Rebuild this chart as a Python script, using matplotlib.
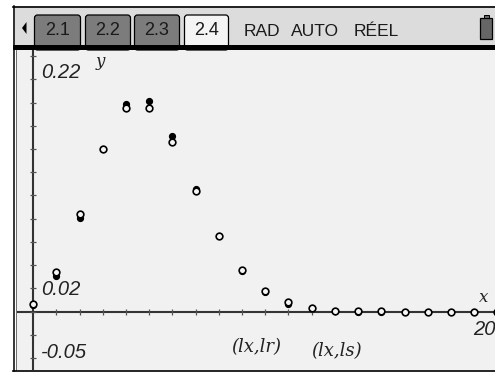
import numpy as np
import matplotlib.pyplot as plt
from matplotlib.patches import Rectangle, FancyBboxPatch, Polygon

# data (TI-Nspire scatter plot)
lx = list(range(21))
lr = [0.006, 0.031, 0.081, 0.140, 0.179, 0.181, 0.151, 0.106, 0.065, 0.035, 0.017,
      0.007, 0.003, 0.001, 0.0, 0.0, 0.0, 0.0, 0.0, 0.0, 0.0]
ls = [0.007, 0.034, 0.084, 0.140, 0.175, 0.175, 0.146, 0.104, 0.065, 0.036, 0.018,
      0.008, 0.003, 0.001, 0.0005, 0.0002, 0.0, 0.0, 0.0, 0.0, 0.0]

tabs = ["2.1", "2.2", "2.3", "2.4"]
mode_words = ["RAD", "AUTO", "RÉEL"]

W, H = 495, 374
fig = plt.figure(figsize=(W / 100, H / 100), dpi=100)
fig.patch.set_facecolor("white")

# plot window, pixel box x 17..495, y 50..370
bg = "#f0f1f0"
ax = fig.add_axes([17 / W, (H - 370) / H, (W - 17) / W, 320 / H])
ax.set_facecolor(bg)
ax.set_xlim(-0.70, 19.9)
ax.set_ylim(-0.0502, 0.2252)
for s in ax.spines.values():
    s.set_visible(False)
ax.set_xticks([])
ax.set_yticks([])

axis_col = "#333333"
ax.axhline(0, color=axis_col, lw=1.5, zorder=1)
ax.axvline(0, color=axis_col, lw=1.5, zorder=1)
xt = np.arange(1, 21)
ax.plot(xt, np.zeros_like(xt), ls="none", marker="|", ms=4, mew=0.9,
        color="#555555", zorder=1)
yt = np.arange(-0.04, 0.23, 0.02)
ax.plot(np.zeros_like(yt), yt, ls="none", marker="_", ms=4, mew=0.9,
        color="#555555", zorder=1)

ax.plot(lx, lr, ls="none", marker="o", ms=4.2, color="black", zorder=3)
ax.plot(lx, ls, ls="none", marker="o", ms=4.8, mfc="#f6f6f6", mec="black",
        mew=1.2, zorder=4)

# chrome overlay in pixel coords
ov = fig.add_axes([0, 0, 1, 1], facecolor="none")
ov.set_xlim(0, W)
ov.set_ylim(H, 0)
ov.axis("off")

ov.add_patch(Rectangle((13, 6), W - 13, 40, fc="#dcdcdc", ec="none"))
ov.plot([13, W], [6.5, 6.5], color="black", lw=1.2)
tab_x = [(33, 82), (84, 132), (133, 181), (183, 230)]
for i, (t, (x0, x1)) in enumerate(zip(tabs, tab_x)):
    active = i == len(tabs) - 1
    ov.add_patch(FancyBboxPatch((x0 + 1.5, 15), x1 - x0 - 3, 35,
                                boxstyle="round,pad=0,rounding_size=3",
                                fc="#f4f4f4" if active else "#7c7c7c",
                                ec="black", lw=0.9))
    ov.text((x0 + x1) / 2, 30.5, t, ha="center", va="center", fontsize=13,
            family="Liberation Sans", color="#1a1a1a")
ov.add_patch(Polygon([[22, 28], [26.5, 22], [26.5, 34]], closed=True,
                     fc="black", ec="none"))
for w, cx in zip(mode_words, [262, 315, 376]):
    ov.text(cx, 31, w, ha="center", va="center", fontsize=12.5,
            family="Liberation Sans", color="#1a1a1a")
# battery
ov.add_patch(Rectangle((480, 17.5), 12, 21, fc="#666666", ec="black", lw=0.9))
ov.add_patch(Rectangle((483.5, 15), 5, 2.5, fc="#666666", ec="black", lw=0.7))

ov.add_patch(Rectangle((13, 45), W - 13, 5, fc="black", ec="none"))
ov.plot([13.8, 13.8], [6, 371], color="black", lw=1.1)
ov.plot([16, 16], [50, 370], color="#555555", lw=0.6)
ov.plot([13, W], [370.5, 370.5], color="black", lw=1.2)

lab = dict(family="Liberation Sans", style="italic", fontsize=14.5,
           color="#222222", va="center")
ov.text(41, 72, "0.22", ha="left", **lab)
ov.text(41, 289.5, "0.02", ha="left", **lab)
ov.text(41, 352, "-0.05", ha="left", **lab)
ov.text(W + 1, 329.5, "20", ha="right", **lab)
ser = dict(family="DejaVu Serif", style="italic", color="#222222",
           va="center")
ov.text(100, 61, "y", ha="center", fontsize=12, **ser)
ov.text(484, 298, "x", ha="center", fontsize=12, **ser)
ov.text(256, 347, "(lx,lr)", ha="center", fontsize=13, **ser)
ov.text(336, 351, "(lx,ls)", ha="center", fontsize=13, **ser)

fig.savefig("out.png", dpi=100)
